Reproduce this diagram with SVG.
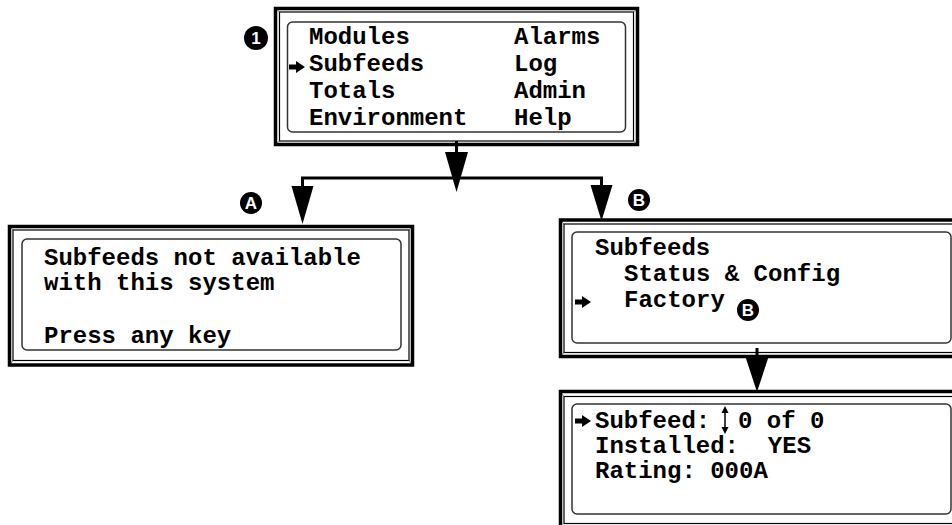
<svg xmlns="http://www.w3.org/2000/svg" width="952" height="525" viewBox="0 0 952 525">
<style>
.t{font-family:"Liberation Mono","Courier New",monospace;font-weight:bold;font-size:24px;fill:#000;white-space:pre}
.thick{fill:none;stroke:#000;stroke-width:3.5}
.thin{fill:none;stroke:#000;stroke-width:1.2}
.lcd{fill:#fff;stroke:#333;stroke-width:1.5}
.bev{fill:none;stroke:#555;stroke-width:0.8}
.badge{fill:#000}
.bl{font-family:"Liberation Sans",Arial,sans-serif;font-weight:bold;font-size:17px;fill:#fff;text-anchor:middle}
.conn{fill:none;stroke:#000;stroke-width:3}
.head{fill:#000}
</style>
<defs>
<path id="ptr" d="M0,-2.5 H7 V-6 L16,0 L7,6 V2.5 H0 Z" fill="#000"/>
</defs>
<rect width="952" height="525" fill="#fff"/>

<g id="connectors">
<path class="conn" d="M456.5,141 V156"/>
<polygon class="head" points="445,152 468,152 456.5,192"/>
<path class="conn" d="M302.5,190 V178 H601.5 V190"/>
<polygon class="head" points="291.5,186 313.5,186 302.5,224"/>
<polygon class="head" points="590.5,185 612.5,185 601.5,221"/>
<path class="conn" d="M757,348 V360"/>
<polygon class="head" points="745.5,357 768.5,357 757,392"/>
</g>

<g id="main-menu">
<rect class="thick" x="275.5" y="8.5" width="362" height="136"/>
<rect class="thin" x="279.5" y="12" width="354" height="129"/>
<path class="bev" d="M279.5,12 L277,10 M633.5,12 L636,10 M279.5,141 L277,143 M633.5,141 L636,143"/>
<rect class="lcd" x="287.5" y="22" width="338" height="110" rx="5"/>
<use href="#ptr" x="289" y="67"/>
<text class="t" x="309" y="44">Modules</text>
<text class="t" x="309" y="71">Subfeeds</text>
<text class="t" x="309" y="98">Totals</text>
<text class="t" x="309" y="125">Environment</text>
<text class="t" x="514" y="44">Alarms</text>
<text class="t" x="514" y="71">Log</text>
<text class="t" x="514" y="98">Admin</text>
<text class="t" x="514" y="125">Help</text>
</g>
<g id="badge-1">
<circle class="badge" cx="256" cy="38" r="12"/>
<text class="bl" x="256" y="44">1</text>
</g>

<g id="box-a">
<rect class="thick" x="9.5" y="226.5" width="403" height="138.5"/>
<rect class="thin" x="13" y="230" width="396" height="130.5"/>
<path class="bev" d="M13,230 L11,228 M409,230 L411,228 M13,360.5 L11,363 M409,360.5 L411,363"/>
<rect class="lcd" x="22" y="239" width="379" height="111" rx="5"/>
<text class="t" x="44" y="265">Subfeeds not available</text>
<text class="t" x="44" y="290">with this system</text>
<text class="t" x="44" y="343">Press any key</text>
</g>
<g id="badge-a">
<circle class="badge" cx="251" cy="203" r="11"/>
<text class="bl" x="251" y="209">A</text>
</g>

<g id="box-b">
<rect class="thick" x="560.5" y="220" width="400" height="136.5"/>
<rect class="thin" x="564" y="224" width="392" height="128.5"/>
<path class="bev" d="M564,224 L562,222 M564,352.5 L562,355"/>
<rect class="lcd" x="572" y="232" width="379" height="111" rx="5"/>
<text class="t" x="595" y="255">Subfeeds</text>
<text class="t" x="624" y="281">Status &amp; Config</text>
<text class="t" x="624" y="307">Factory</text>
<use href="#ptr" x="575" y="302"/>
<circle class="badge" cx="748" cy="310" r="11"/>
<text class="bl" x="748" y="316">B</text>
</g>
<g id="badge-b">
<circle class="badge" cx="639" cy="200" r="11"/>
<text class="bl" x="639" y="206">B</text>
</g>

<g id="box-subfeed">
<rect class="thick" x="560.5" y="391.5" width="400" height="140"/>
<rect class="thin" x="564" y="396.5" width="392" height="127"/>
<path class="bev" d="M564,396.5 L562,394"/>
<rect class="lcd" x="572" y="404" width="379" height="110" rx="5"/>
<use href="#ptr" x="575" y="421"/>
<text class="t" x="595" y="428">Subfeed:</text>
<text class="t" x="738" y="428">0 of 0</text>
<path d="M725,411 V428" stroke="#000" stroke-width="1.5"/>
<polygon points="721.5,413 728.5,413 725,406" fill="#000"/>
<polygon points="721.5,427 728.5,427 725,434" fill="#000"/>
<text class="t" x="595" y="453">Installed:  YES</text>
<text class="t" x="595" y="478">Rating: 000A</text>
</g>
</svg>
